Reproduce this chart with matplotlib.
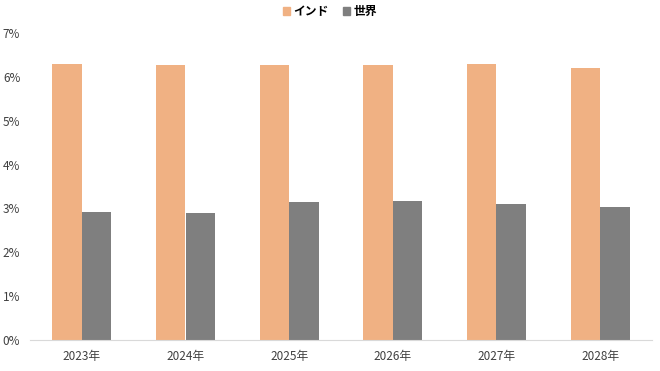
import numpy as np
import matplotlib.pyplot as plt
from matplotlib.ticker import FuncFormatter
from matplotlib.patches import Patch

plt.rcParams['font.family'] = ['Noto Sans CJK JP', 'DejaVu Sans']

years = ['2023年', '2024年', '2025年', '2026年', '2027年', '2028年']
india = [6.3, 6.26, 6.28, 6.26, 6.3, 6.2]
world = [2.92, 2.9, 3.15, 3.17, 3.1, 3.03]
series_names = ['インド', '世界']
colors = ['#F0B183', '#7F7F7F']

fig = plt.figure(figsize=(6.6, 3.71), dpi=100)
ax = fig.add_axes([30 / 660, 31 / 371, 622 / 660, 307 / 371])

x = np.arange(len(years))
w = 0.285
ax.bar(x - w / 2, india, w, color=colors[0], linewidth=0)
ax.bar(x + w / 2, world, w, color=colors[1], linewidth=0)

ax.set_xlim(-0.5, len(years) - 0.5)
ax.set_ylim(0, 7)
ax.set_yticks(range(0, 8))
ax.yaxis.set_major_formatter(FuncFormatter(lambda v, p: f'{int(v)}%'))
ax.set_xticks(x)
ax.set_xticklabels(years)
ax.tick_params(axis='both', length=0, labelsize=8.5, colors='#404040')
ax.tick_params(axis='x', pad=7)
ax.tick_params(axis='y', pad=7)

for s in ['top', 'right', 'left']:
    ax.spines[s].set_visible(False)
ax.spines['bottom'].set_color('#D9D9D9')
ax.spines['bottom'].set_linewidth(0.8)

handles = [Patch(color=c, label=n) for c, n in zip(colors, series_names)]
fig.legend(handles=handles, loc='upper center', bbox_to_anchor=(0.5, 1.015), ncol=2,
           frameon=False, handlelength=0.6, handleheight=0.6,
           handletextpad=0.3, columnspacing=1.2,
           prop={'weight': 'bold', 'size': 8.5})

fig.savefig('out.png', dpi=100)
